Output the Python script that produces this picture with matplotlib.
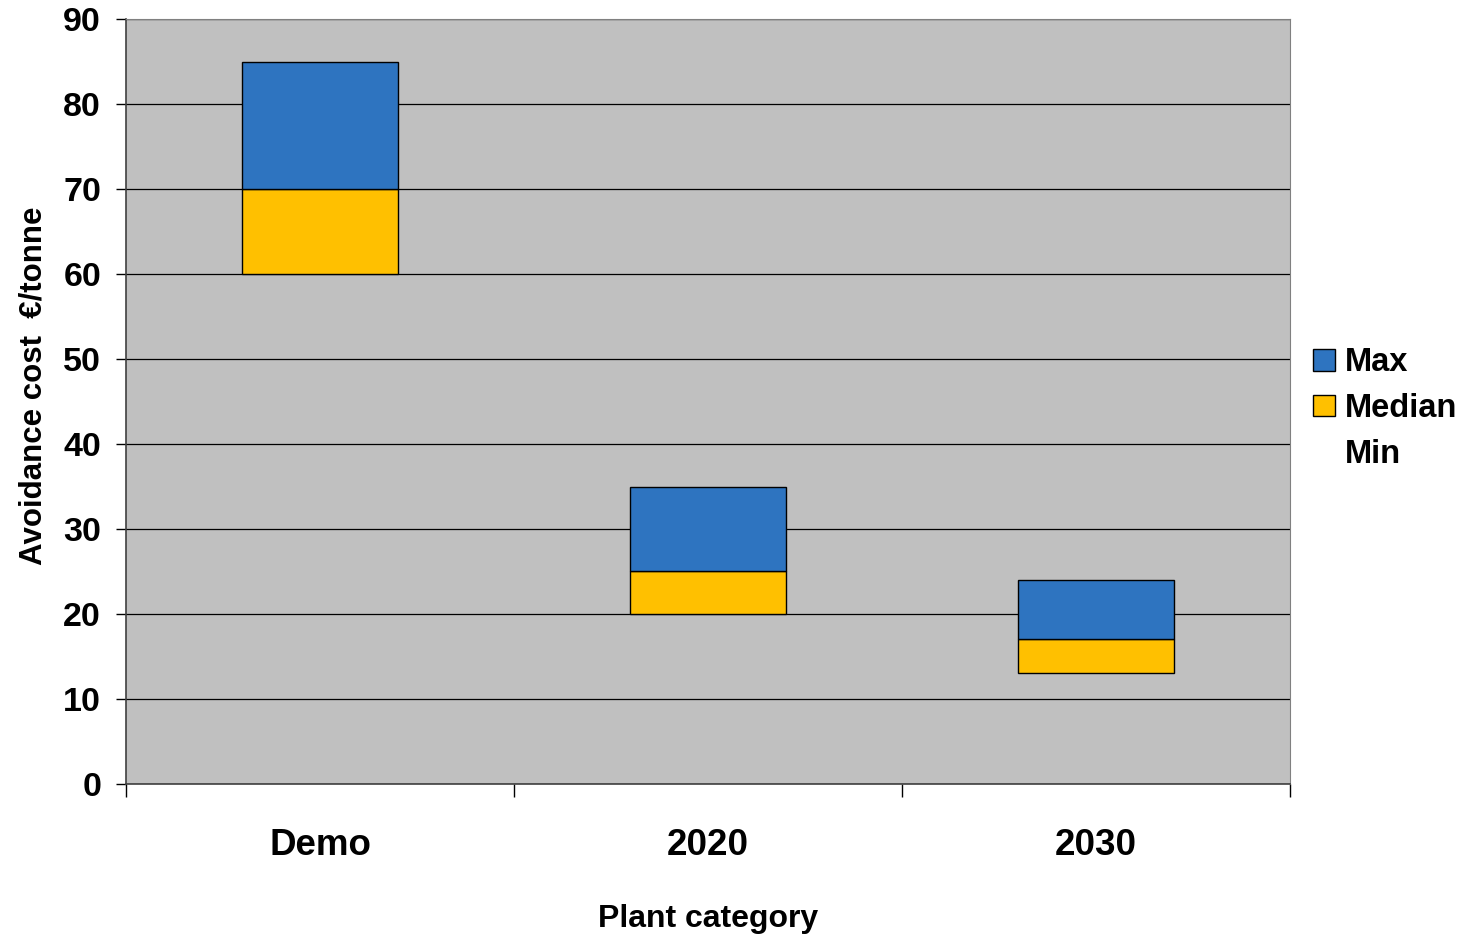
import matplotlib.pyplot as plt
import numpy as np

plt.rcParams['font.family'] = ['Liberation Sans', 'DejaVu Sans']
plt.rcParams['font.weight'] = 'bold'

# Avoidance cost per plant category (€/tonne)
categories = ['Demo', '2020', '2030']
cost_min = [60, 20, 13]
cost_median = [70, 25, 17]
cost_max = [85, 35, 24]

colore_max = '#2E74C0'
colore_median = '#FFC000'
sfondo = '#C0C0C0'

seg_median = [m - lo for m, lo in zip(cost_median, cost_min)]
seg_max = [hi - m for hi, m in zip(cost_max, cost_median)]

fig = plt.figure(figsize=(14.62, 9.38), dpi=100)
ax = fig.add_axes([0.0862, 0.1642, 0.7961, 0.8155])
ax.set_facecolor(sfondo)

index = np.arange(len(categories))
bar_width = 0.4

# Min is an invisible base, then the median and max segments stacked on top
b_min = ax.bar(index, cost_min, bar_width, color='none', edgecolor='none', label='Min')
b_med = ax.bar(index, seg_median, bar_width, bottom=cost_min, color=colore_median,
               edgecolor='black', linewidth=1, label='Median', zorder=3)
b_max = ax.bar(index, seg_max, bar_width, bottom=cost_median, color=colore_max,
               edgecolor='black', linewidth=1, label='Max', zorder=3)

ax.set_xlim(-0.5, len(categories) - 0.5)
ax.set_ylim(0, 90)
ax.set_yticks(range(0, 91, 10))
ax.yaxis.grid(True, color='black', linewidth=0.9)
ax.set_axisbelow(True)

ax.set_xticks(index)
ax.set_xticklabels(categories, fontsize=26.5, fontweight='bold')
ax.tick_params(axis='x', which='major', length=0, pad=32)
ax.set_xticks(np.arange(-0.5, len(categories), 1), minor=True)
ax.tick_params(axis='x', which='minor', length=9, width=1, color='black', direction='out')
ax.tick_params(axis='y', length=7, width=1, pad=11, labelsize=24.5, direction='out')
for lab in ax.get_yticklabels():
    lab.set_fontweight('bold')

for side in ['top', 'right']:
    ax.spines[side].set_color('#808080')
for side in ['left', 'bottom']:
    ax.spines[side].set_color('#404040')
    ax.spines[side].set_linewidth(1.2)

ax.set_xlabel('Plant category', fontsize=23, fontweight='bold', labelpad=29)
ax.set_ylabel('Avoidance cost  €/tonne', fontsize=22.5, fontweight='bold')
ax.yaxis.set_label_coords(-0.067, 0.52)

leg = ax.legend([b_max, b_med, b_min], ['Max', 'Median', 'Min'],
                loc='center left', bbox_to_anchor=(1.009, 0.491), frameon=False,
                borderaxespad=0, fontsize=23.5, handlelength=0.65, handleheight=0.65,
                handletextpad=0.3, labelspacing=0.45)
for t in leg.get_texts():
    t.set_fontweight('bold')

plt.savefig('out.png', dpi=100)
